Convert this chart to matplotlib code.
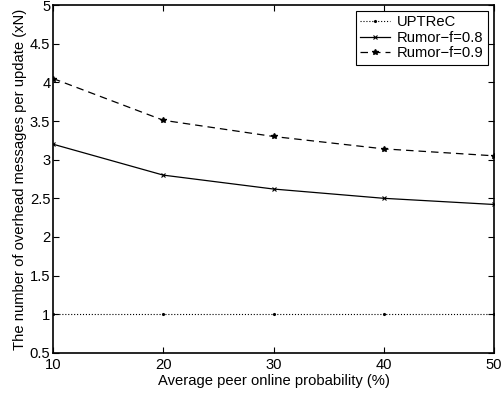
"""Overhead messages per update vs. peer online probability."""
import matplotlib
matplotlib.use("Agg")
import matplotlib.pyplot as plt
from matplotlib.ticker import FuncFormatter

prob = [10, 20, 30, 40, 50]
uptrec = [1, 1, 1, 1, 1]
rumor_08 = [3.20, 2.80, 2.62, 2.50, 2.42]
rumor_09 = [4.05, 3.51, 3.30, 3.14, 3.05]

plt.rcParams["font.family"] = ["Liberation Sans", "DejaVu Sans"]
plt.rcParams["font.size"] = 10.6

fig = plt.figure(figsize=(5.01, 3.96), dpi=100)
ax = fig.add_axes([0.106, 0.109, 0.880, 0.878])

ax.plot(prob, uptrec, color="black", linestyle=":", linewidth=0.8,
        marker=".", markersize=2.5, label="UPTReC")
ax.plot(prob, rumor_08, color="black", linestyle="-", linewidth=0.9,
        marker="x", markersize=3, markeredgewidth=0.8, label="Rumor\u2212f=0.8")
ax.plot(prob, rumor_09, color="black", linestyle=(0, (6, 4)), linewidth=0.9,
        marker="*", markersize=4, label="Rumor\u2212f=0.9")

ax.set_xlim(10, 50)
ax.set_ylim(0.5, 5)
ax.set_xticks(prob)
ax.set_yticks([0.5, 1, 1.5, 2, 2.5, 3, 3.5, 4, 4.5, 5])
ax.yaxis.set_major_formatter(FuncFormatter(lambda v, p: f"{v:g}"))
ax.tick_params(direction="in", top=True, right=True, length=4, width=0.8,
               pad=2)
ax.tick_params(axis="x", pad=4)
for s in ax.spines.values():
    s.set_linewidth(1.2)

ax.set_xlabel("Average peer online probability (%)", labelpad=1)
ax.set_ylabel("The number of overhead messages per update (xN)", labelpad=2)

leg = ax.legend(loc="upper right", fancybox=False, edgecolor="black",
                framealpha=1, handlelength=2.0, borderaxespad=0.4,
                labelspacing=0.1, borderpad=0.3, handletextpad=0.5)
leg.get_frame().set_linewidth(0.8)

fig.savefig("out.png", dpi=100)
